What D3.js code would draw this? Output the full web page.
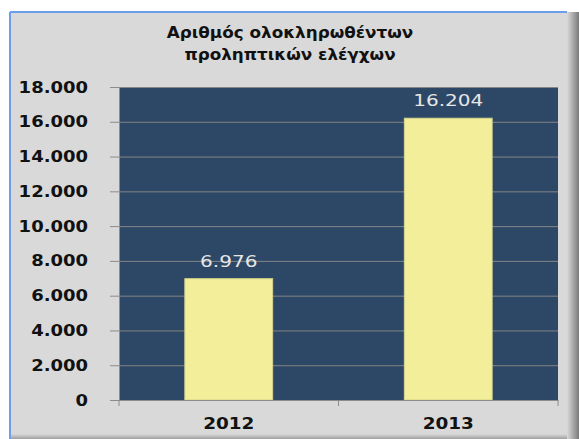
<html>
<head>
<script src="https://d3js.org/d3.v7.min.js"></script>
<style>
  body { margin: 0; background: white; }
  text { font-family: "DejaVu Sans", Verdana, sans-serif; }
</style>
</head>
<body>
<svg id="chart" width="579" height="439"></svg>
<script>
const years = ["2012", "2013"];
const values = [6976, 16204];
const valueLabels = ["6.976", "16.204"];
const tickValues = [0, 2000, 4000, 6000, 8000, 10000, 12000, 14000, 16000, 18000];
const tickLabels = ["0", "2.000", "4.000", "6.000", "8.000", "10.000", "12.000", "14.000", "16.000", "18.000"];
const titleLines = ["Αριθμός ολοκληρωθέντων", "προληπτικών ελέγχων"];

const svg = d3.select("#chart");
const plot = {left: 119, right: 558, top: 87, bottom: 400};

// frame with shadow on the right and bottom
const defs = svg.append("defs");
const gr = defs.append("linearGradient").attr("id", "shR");
gr.append("stop").attr("offset", "0").attr("stop-color", "#d9d9d9");
gr.append("stop").attr("offset", "1").attr("stop-color", "#7a7a7a");
const gb = defs.append("linearGradient").attr("id", "shB").attr("x1", 0).attr("x2", 0).attr("y1", 0).attr("y2", 1);
gb.append("stop").attr("offset", "0").attr("stop-color", "#d9d9d9");
gb.append("stop").attr("offset", "1").attr("stop-color", "#a0a0a0");

svg.append("rect").attr("x", 10).attr("y", 12).attr("width", 569).attr("height", 427).attr("fill", "#d9d9d9");
svg.append("rect").attr("x", 567).attr("y", 12).attr("width", 12).attr("height", 427).attr("fill", "url(#shR)");
svg.append("rect").attr("x", 10).attr("y", 434).attr("width", 557).attr("height", 5).attr("fill", "url(#shB)");
svg.append("line").attr("x1", 10).attr("x2", 567).attr("y1", 12).attr("y2", 12)
  .attr("stroke", "#6d9eeb").attr("stroke-width", 2);
svg.append("line").attr("x1", 10).attr("x2", 10).attr("y1", 12).attr("y2", 439)
  .attr("stroke", "#6d9eeb").attr("stroke-width", 2);

// title
titleLines.forEach((t, i) => {
  svg.append("text")
    .attr("transform", "translate(290," + (38 + i * 22) + ") scale(1.12,1)")
    .attr("text-anchor", "middle")
    .style("font-size", "15px")
    .style("font-weight", "bold")
    .attr("fill", "#111")
    .text(t);
});

let x = d3.scaleBand().domain(years).range([plot.left, plot.right]).padding(0);
let y = d3.scaleLinear().domain([0, 18000]).range([plot.bottom, plot.top]);

svg.append("rect")
  .attr("x", plot.left).attr("y", plot.top)
  .attr("width", plot.right - plot.left).attr("height", plot.bottom - plot.top)
  .attr("fill", "#2d4866");

// gridlines
let grid = d3.axisLeft(y).tickValues(tickValues).tickSize(-(plot.right - plot.left)).tickFormat("");
let gg = svg.append("g").attr("transform", "translate(" + plot.left + ",0)").call(grid);
gg.select(".domain").remove();
gg.selectAll("line").attr("stroke", "#858585").attr("stroke-width", 1);

// bars
const barW = x.bandwidth() * 0.4;
years.forEach((d, i) => {
  svg.append("rect")
    .attr("x", x(d) + (x.bandwidth() - barW) / 2)
    .attr("y", y(values[i]))
    .attr("width", barW)
    .attr("height", y(0) - y(values[i]))
    .attr("fill", "#f2ee99")
    .attr("stroke", "#d8d48a")
    .attr("stroke-width", 1);
  svg.append("text")
    .attr("transform", "translate(" + (x(d) + x.bandwidth() / 2) + "," + (y(values[i]) - 12) + ") scale(1.25,1)")
    .attr("text-anchor", "middle")
    .style("font-size", "16px")
    .attr("fill", "#e6e6e6")
    .text(valueLabels[i]);
});

// y axis
let leftAxis = d3.axisLeft(y).tickValues(tickValues).tickSize(9).tickFormat("");
let ya = svg.append("g").attr("transform", "translate(" + plot.left + ",0)").call(leftAxis);
ya.selectAll("line, path").attr("stroke", "#8c8c8c");
tickValues.forEach((v, i) => {
  svg.append("text")
    .attr("transform", "translate(88," + (y(v) + 5.5) + ") scale(1.2,1)")
    .attr("text-anchor", "end")
    .style("font-size", "15px")
    .style("font-weight", "bold")
    .attr("fill", "#111")
    .text(tickLabels[i]);
});

// x axis
let bottomAxis = d3.axisBottom(x).tickSize(0).tickFormat("");
let xa = svg.append("g").attr("transform", "translate(0," + plot.bottom + ")").call(bottomAxis);
xa.select(".domain").attr("stroke", "#8c8c8c");
[plot.left, x("2013"), plot.right].forEach(px => {
  xa.append("line").attr("x1", px).attr("x2", px).attr("y1", 0).attr("y2", 6).attr("stroke", "#8c8c8c");
});
years.forEach(d => {
  svg.append("text")
    .attr("transform", "translate(" + (x(d) + x.bandwidth() / 2) + ",429) scale(1.15,1)")
    .attr("text-anchor", "middle")
    .style("font-size", "16px")
    .style("font-weight", "bold")
    .attr("fill", "#111")
    .text(d);
});
</script>
</body>
</html>
